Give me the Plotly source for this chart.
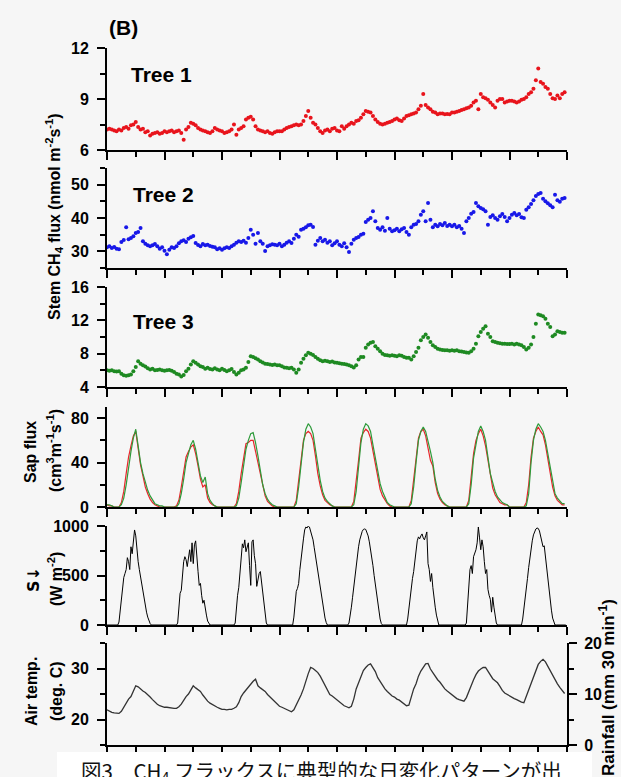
import numpy as np
import plotly.graph_objects as go

# hourly values over the 8 days shown (hour 0 = left edge of the axes)
tree1 = [
    7.2, 7.25, 7.2, 7.15, 7.1, 7.2, 7.15, 7.3, 7.35, 7.25, 7.45, 7.5, 7.65, 7.35, 7.2, 7.25, 7.05, 7.1, 6.85, 6.95, 7.0, 7.05, 6.95, 7.0,
    7.1, 7.05, 7.1, 7.15, 7.05, 7.1, 7.15, 7.0, 6.6, 7.2, 7.35, 7.6, 7.55, 7.45, 7.3, 7.2, 7.15, 7.1, 7.05, 7.0, 7.1, 7.3, 7.2, 7.15,
    7.1, 7.0, 7.05, 7.1, 7.2, 7.5, 6.9, 7.2, 7.3, 7.4, 7.8, 7.9, 7.95, 7.8, 7.4, 7.2, 7.15, 7.1, 7.05, 7.1, 7.0, 6.95, 7.05, 7.1,
    7.1, 7.1, 7.2, 7.3, 7.35, 7.4, 7.45, 7.5, 7.45, 7.5, 7.7, 8.0, 8.3, 7.9, 7.6, 7.5, 7.3, 7.1, 7.0, 7.15, 7.2, 7.1, 7.25, 7.3,
    7.15, 7.1, 7.4, 7.25, 7.4, 7.5, 7.6, 7.55, 7.7, 7.75, 7.9, 8.1, 8.3, 8.25, 8.2, 8.0, 7.8, 7.65, 7.55, 7.5, 7.55, 7.6, 7.65, 7.7,
    7.8, 7.85, 7.75, 7.7, 7.85, 8.0, 8.05, 8.1, 8.15, 8.2, 8.4, 8.6, 9.3, 8.65, 8.5, 8.4, 8.25, 8.2, 8.1, 8.15, 8.15, 8.1, 8.12, 8.1,
    8.2, 8.2, 8.25, 8.3, 8.35, 8.4, 8.45, 8.5, 8.6, 8.8, 8.9, 8.4, 9.3, 9.1, 9.05, 8.95, 8.8, 8.65, 8.5, 8.9, 9.0, 9.0, 8.8, 8.85,
    8.9, 8.9, 8.85, 8.8, 8.85, 8.95, 9.0, 9.1, 9.3, 9.4, 9.6, 10.1, 10.8, 10.0, 9.9, 9.7, 9.6, 9.3, 9.05, 9.0, 9.2, 9.05, 9.3, 9.4,
]

tree2 = [
    31.2, 31.5, 31.0, 31.3, 30.8, 30.6, 32.8, 33.4, 37.2, 33.6, 34.0, 34.5, 35.5, 35.8, 37.0, 33.0, 32.3, 31.8, 31.5, 31.8, 32.2, 31.5, 30.8, 31.2,
    30.2, 29.1, 30.5, 31.2, 31.0, 31.5, 32.4, 33.0, 33.3, 32.8, 33.8, 34.2, 34.6, 32.5, 31.9, 31.5, 32.2, 31.8, 32.0, 31.6, 31.4, 31.2, 30.6, 30.9,
    30.5, 30.9, 31.2, 31.0, 31.5, 32.0, 32.6, 33.0, 32.8, 33.2, 32.6, 34.0, 36.5, 35.0, 32.3, 35.5, 33.0, 32.3, 30.1, 31.5, 31.8, 32.1, 32.0, 31.8,
    32.3, 31.5, 32.0, 32.6, 33.0, 32.5, 33.8, 35.0, 34.4, 36.5, 36.8, 37.2, 37.8, 38.0, 37.3, 32.0, 33.2, 34.0, 33.0, 33.5, 32.6, 33.0, 31.8, 32.4,
    33.0, 32.0, 31.5, 32.4, 31.2, 29.8, 32.3, 33.5, 34.0, 34.3, 35.0, 35.3, 38.8, 39.5, 40.0, 42.0, 39.0, 37.0, 36.5, 37.2, 36.2, 40.0, 36.8, 36.0,
    36.3, 36.8, 36.0, 36.6, 37.0, 35.8, 35.0, 37.2, 38.0, 38.2, 39.0, 41.0, 42.0, 39.0, 44.5, 39.5, 37.2, 38.0, 37.5, 38.2, 37.8, 38.5, 37.6, 38.0,
    37.5, 38.0, 37.2, 37.6, 36.8, 35.5, 39.0, 40.0, 41.3, 41.8, 44.5, 43.5, 43.0, 42.6, 42.0, 38.0, 40.3, 40.8, 40.0, 39.5, 40.5, 41.2, 40.3, 39.0,
    40.0, 41.0, 41.5, 40.8, 41.2, 40.2, 40.0, 42.5, 43.2, 44.2, 45.3, 46.6, 47.2, 47.5, 45.8, 45.0, 44.4, 43.8, 43.2, 47.0, 45.3, 44.9, 45.8, 46.0,
]

tree3 = [
    6.0, 5.95, 6.0, 5.9, 5.85, 5.9, 5.6, 5.4, 5.35, 5.4, 5.5, 5.9, 6.4, 7.1, 6.8, 6.6, 6.45, 6.25, 6.1, 6.2, 6.0, 6.05, 6.1, 6.0,
    5.95, 6.0, 6.05, 5.95, 5.8, 5.6, 5.5, 5.25, 5.45, 5.9, 6.2, 6.7, 7.1, 6.9, 6.7, 6.5, 6.4, 6.2, 6.3, 6.15, 6.1, 6.25, 6.1, 6.0,
    6.2, 6.05, 5.9, 6.0, 6.15, 5.8, 5.5, 5.7, 6.0, 6.1, 6.3, 7.0, 7.7, 7.6, 7.45, 7.3, 7.1, 6.95, 6.8, 6.75, 6.7, 6.65, 6.7, 6.6,
    6.6, 6.5, 6.35, 6.3, 6.25, 6.3, 6.1, 5.7, 6.1, 6.9, 7.4, 7.8, 8.1, 8.0, 7.85, 7.6, 7.4, 7.2, 7.1, 7.15, 7.1, 7.0, 7.05, 6.95,
    6.9, 6.85, 6.8, 6.75, 6.7, 6.6, 6.5, 6.35, 6.6, 7.3, 7.6, 7.6, 8.7, 9.1, 9.3, 9.4, 8.9, 8.6, 8.3, 8.0, 7.85, 7.8, 7.75, 7.8,
    7.75, 7.7, 7.8, 7.75, 7.6, 7.5, 7.5, 7.3, 7.7, 8.2, 8.7, 9.6, 10.0, 10.3, 9.9, 9.4, 9.0, 8.8, 8.6, 8.5, 8.45, 8.4, 8.4, 8.35,
    8.4, 8.35, 8.4, 8.3, 8.25, 8.2, 8.15, 8.1, 8.3, 8.6, 9.2, 10.1, 10.6, 11.0, 11.3, 10.4, 10.0, 9.5, 9.4, 9.3, 9.25, 9.2, 9.2, 9.15,
    9.15, 9.2, 9.1, 9.2, 9.1, 9.0, 8.8, 8.5, 8.7, 9.1, 10.0, 11.6, 12.7, 12.6, 12.5, 12.2, 11.6, 11.2, 10.1, 10.3, 10.7, 10.6, 10.5, 10.5,
]

sap_red = [
    2, 1, 1, 0, 0, 0, 4, 14, 30, 45, 55, 64, 68, 52, 38, 28, 18, 12, 7, 4, 2, 1, 0, 0,
    0, 0, 0, 0, 0, 1, 6, 18, 33, 45, 50, 54, 56, 48, 37, 25, 18, 20, 8, 4, 2, 1, 0, 0,
    0, 0, 0, 0, 0, 0, 3, 14, 30, 45, 57, 58, 60, 60, 50, 39, 28, 17, 10, 5, 3, 1, 0, 0,
    0, 0, 0, 0, 0, 0, 0, 6, 24, 44, 60, 66, 68, 66, 60, 46, 30, 19, 11, 6, 4, 2, 1, 0,
    0, 0, 0, 0, 0, 0, 0, 5, 22, 42, 62, 67, 70, 68, 62, 50, 38, 26, 16, 10, 6, 3, 1, 0,
    0, 0, 0, 0, 0, 0, 0, 6, 24, 44, 62, 68, 70, 64, 52, 42, 37, 22, 12, 7, 4, 2, 1, 0,
    0, 0, 0, 0, 0, 0, 0, 6, 26, 48, 60, 66, 70, 64, 55, 42, 26, 17, 11, 7, 4, 3, 2, 2,
    0, 0, 0, 0, 0, 0, 0, 4, 20, 45, 62, 68, 72, 68, 65, 56, 44, 30, 18, 10, 6, 4, 2, 2,
]

sap_green = [
    2, 2, 1, 0, 0, 0, 2, 8, 20, 36, 50, 62, 70, 55, 40, 30, 22, 15, 10, 6, 3, 2, 1, 1,
    0, 0, 0, 0, 0, 0, 3, 12, 25, 40, 48, 56, 60, 52, 40, 28, 22, 27, 12, 6, 3, 1, 0, 0,
    0, 0, 0, 0, 0, 0, 1, 8, 22, 35, 52, 60, 66, 67, 58, 46, 32, 20, 12, 7, 4, 2, 1, 0,
    0, 0, 0, 0, 0, 0, 0, 3, 18, 38, 58, 70, 75, 72, 66, 52, 36, 24, 14, 8, 5, 3, 1, 0,
    0, 0, 0, 0, 0, 0, 0, 2, 14, 36, 58, 70, 75, 73, 68, 56, 45, 32, 21, 14, 8, 4, 2, 1,
    0, 0, 0, 0, 0, 0, 0, 3, 18, 40, 60, 68, 72, 68, 60, 50, 40, 25, 15, 9, 5, 3, 1, 0,
    0, 0, 0, 0, 0, 0, 0, 3, 20, 44, 58, 68, 73, 68, 60, 46, 30, 22, 14, 9, 6, 4, 3, 2,
    0, 0, 0, 0, 0, 0, 0, 1, 12, 40, 60, 70, 75, 72, 68, 60, 48, 34, 22, 12, 8, 5, 3, 3,
]

# half-hourly radiation
rad = [
    0, 0, 0, 0, 0, 0, 0, 0, 0, 0, 30, 150, 220, 330, 480, 520, 560, 680, 640, 560, 790, 720, 880, 960,
    900, 740, 640, 560, 480, 450, 330, 280, 180, 130, 80, 40, 15, 0, 0, 0, 0, 0, 0, 0, 0, 0, 0, 0,
    0, 0, 0, 0, 0, 0, 0, 0, 0, 0, 0, 20, 150, 320, 350, 520, 640, 690, 660, 590, 700, 760, 640, 830,
    620, 810, 850, 650, 540, 400, 420, 300, 220, 250, 160, 100, 40, 10, 0, 0, 0, 0, 0, 0, 0, 0, 0, 0,
    0, 0, 0, 0, 0, 0, 0, 0, 0, 0, 0, 20, 200, 300, 380, 520, 700, 820, 780, 860, 740, 800, 830, 600,
    400, 840, 860, 700, 620, 390, 450, 520, 540, 430, 280, 200, 100, 20, 0, 0, 0, 0, 0, 0, 0, 0, 0, 0,
    0, 0, 0, 0, 0, 0, 0, 0, 0, 0, 0, 0, 80, 230, 340, 370, 420, 560, 690, 800, 870, 960, 990, 980,
    1000, 990, 950, 900, 860, 780, 700, 620, 530, 440, 360, 280, 200, 130, 70, 25, 0, 0, 0, 0, 0, 0, 0, 0,
    0, 0, 0, 0, 0, 0, 0, 0, 0, 0, 20, 90, 180, 280, 390, 500, 600, 700, 790, 860, 910, 945, 965, 970,
    965, 940, 900, 840, 770, 690, 600, 500, 400, 300, 210, 130, 60, 15, 0, 0, 0, 0, 0, 0, 0, 0, 0, 0,
    0, 0, 0, 0, 0, 0, 0, 0, 0, 0, 0, 60, 180, 260, 380, 470, 540, 650, 760, 850, 890, 870, 900, 920,
    880, 860, 900, 940, 620, 560, 440, 520, 380, 250, 180, 100, 30, 0, 0, 0, 0, 0, 0, 0, 0, 0, 0, 0,
    0, 0, 0, 0, 0, 0, 0, 0, 0, 0, 0, 0, 20, 200, 320, 560, 600, 520, 690, 720, 760, 830, 990, 880,
    760, 860, 790, 640, 520, 560, 360, 300, 260, 130, 280, 180, 80, 20, 0, 0, 0, 0, 0, 0, 0, 0, 0, 0,
    0, 0, 0, 0, 0, 0, 0, 0, 0, 0, 0, 60, 150, 250, 360, 470, 580, 680, 770, 850, 910, 950, 970, 980,
    975, 950, 900, 850, 790, 800, 680, 580, 470, 360, 250, 150, 70, 20, 0, 0, 0, 0, 0, 0, 0, 0, 0, 0,
]

air_temp = [
    21.9, 21.6, 21.4, 21.3, 21.3, 21.2, 21.6, 22.4, 23.2, 24.0, 24.5, 25.6, 26.6, 26.4, 25.9, 25.6, 25.3, 24.9, 24.4, 23.9, 23.4, 23.0, 22.7, 22.5,
    22.4, 22.4, 22.3, 22.2, 22.2, 22.2, 22.5, 23.0, 23.8, 24.5, 25.0, 25.8, 26.6, 26.2, 25.8, 25.5, 24.8, 24.1, 23.6, 23.2, 22.9, 22.6, 22.4, 22.2,
    22.0, 22.0, 21.9, 22.0, 22.0, 22.2, 22.5, 23.3, 24.5, 25.2, 25.8, 26.2, 26.8, 27.5, 27.9, 26.6, 26.2, 25.8, 25.5, 24.9, 24.4, 23.9, 23.4, 23.0,
    22.6, 22.4, 22.2, 22.0, 21.8, 21.5, 21.9, 22.8, 23.8, 24.8, 26.0, 27.6, 29.0, 30.2, 30.0, 29.6, 29.2, 28.5, 27.6, 26.6, 25.6, 24.9, 24.6, 24.2,
    23.8, 23.4, 23.0, 22.7, 22.5, 22.3, 22.6, 24.0, 26.0, 27.2, 28.6, 29.6, 30.2, 30.7, 30.9, 30.2, 29.4, 28.2, 27.4, 26.6, 26.0, 25.5, 25.0, 24.6,
    24.4, 24.0, 23.8, 23.4, 23.0, 22.7, 22.8, 24.5, 26.0, 27.0, 28.5, 29.5, 30.3, 30.9, 31.0, 29.9, 29.2, 28.4, 27.8, 27.3, 26.6, 26.0, 25.6, 25.2,
    24.8, 24.4, 24.1, 23.9, 23.7, 23.6, 24.3, 25.6, 26.7, 27.8, 28.8, 29.5, 29.9, 30.2, 30.2, 29.5, 28.7, 28.0, 27.6, 27.2, 26.5, 25.7, 25.2, 24.9,
    24.6, 24.3, 24.1, 23.9, 23.6, 23.4, 23.3, 24.5, 26.0, 27.3, 28.2, 29.5, 30.8, 31.4, 31.8, 31.3, 30.4, 29.6, 28.6, 27.6, 27.0, 26.3, 25.6, 25.1,
]

W, H = 621, 777
FONT = "Liberation Sans, Arial, sans-serif"

def fx(px):
    return px / W

def fy(py):
    return 1 - py / H

hours = np.arange(len(tree1))
half_hours = np.arange(len(rad)) * 0.5

fig = go.Figure()

fig.add_trace(go.Scatter(x=hours, y=tree1, mode="markers", marker=dict(size=4, color="#e8141c"),
                         xaxis="x", yaxis="y"))
fig.add_trace(go.Scatter(x=hours, y=tree2, mode="markers", marker=dict(size=4, color="#1818e8"),
                         xaxis="x2", yaxis="y2"))
fig.add_trace(go.Scatter(x=hours, y=tree3, mode="markers", marker=dict(size=4, color="#1e8a22"),
                         xaxis="x3", yaxis="y3"))
fig.add_trace(go.Scatter(x=hours, y=sap_red, mode="lines", line=dict(color="#e8262b", width=1.2),
                         xaxis="x4", yaxis="y4"))
fig.add_trace(go.Scatter(x=hours, y=sap_green, mode="lines", line=dict(color="#2e9a3a", width=1.2),
                         xaxis="x4", yaxis="y4"))
fig.add_trace(go.Scatter(x=half_hours, y=rad, mode="lines", line=dict(color="black", width=1),
                         xaxis="x5", yaxis="y5"))
fig.add_trace(go.Scatter(x=hours, y=air_temp, mode="lines", line=dict(color="#333333", width=1.3),
                         xaxis="x6", yaxis="y6"))
# rainfall axis (no rain in the period)
fig.add_trace(go.Scatter(x=[], y=[], mode="lines", xaxis="x6", yaxis="y7"))

# panel extents in pixels (top, bottom)
panels = [(48, 150), (168, 268), (287, 387), (407, 507), (526, 625), (643, 745)]
y_ranges = [[6, 12], [25, 55], [4, 16], [0, 90], [0, 1000], [15, 35]]
y_dtick = [3, 10, 4, 40, 500, 10]
y_minor = [1.5, 5, 2, 20, 250, 5]

line_style = dict(showline=True, linecolor="black", linewidth=2, ticks="outside", ticklen=8,
                  tickwidth=2, tickcolor="black", showgrid=False, zeroline=False, automargin=False)
tick_font = dict(family=FONT, size=16, color="black", weight="bold")

layout = {}
for i, ((top, bot), yr, dt, mn) in enumerate(zip(panels, y_ranges, y_dtick, y_minor), start=1):
    sfx = "" if i == 1 else str(i)
    layout["xaxis" + sfx] = dict(
        line_style, domain=[fx(107), fx(567)], anchor="y" + sfx, range=[0, 192],
        tick0=0, dtick=24, showticklabels=False,
        minor=dict(ticks="outside", ticklen=5, tickwidth=1.5, tickcolor="black", dtick=12, tick0=0),
    )
    layout["yaxis" + sfx] = dict(
        line_style, domain=[fy(bot), fy(top)], anchor="x" + sfx, range=yr,
        tick0=0, dtick=dt, tickfont=tick_font, ticklabelstandoff=5,
        minor=dict(ticks="outside", ticklen=5, tickwidth=1.5, tickcolor="black", dtick=mn, tick0=0),
    )

layout["yaxis7"] = dict(
    line_style, overlaying="y6", side="right", anchor="x6", range=[0, 20],
    tick0=0, dtick=10, tickfont=tick_font, ticklabelstandoff=4,
    minor=dict(ticks="outside", ticklen=5, tickwidth=1.5, tickcolor="black", dtick=5, tick0=0),
)


def label(text, x, y, size=16, angle=0, xanchor="center", family=FONT):
    return dict(text=text, x=fx(x), y=fy(y), xref="paper", yref="paper", showarrow=False,
                textangle=angle, xanchor=xanchor, yanchor="middle",
                font=dict(family=family, size=size, color="black", weight="bold"))


annotations = [
    label("(B)", 107, 28, size=21, xanchor="left"),
    label("Tree 1", 129, 74, size=21, xanchor="left"),
    label("Tree 2", 131, 194, size=21, xanchor="left"),
    label("Tree 3", 131, 321, size=21, xanchor="left"),
    label("Stem CH<sub>4</sub> flux (nmol m<sup>-2</sup>s<sup>-1</sup>)", 54, 217, angle=-90),
    label("Sap flux", 30, 452, angle=-90),
    label("(cm<sup>3</sup>m<sup>-1</sup>s<sup>-1</sup>)", 54, 451, angle=-90),
    label("S↓", 33, 580, angle=-90, family="DejaVu Sans"),
    label("(W m<sup>-2</sup>)", 55, 579, angle=-90),
    label("Air temp.", 31, 692, angle=-90),
    label("(deg. C)", 56, 691, angle=-90),
    label("Rainfall (mm 30 min<sup>-1</sup>)", 607, 688, size=17, angle=-90),
    dict(text="図3　CH<sub>4</sub> フラックスに典型的な日変化パターンが出", x=fx(79), y=fy(771),
         xref="paper", yref="paper", showarrow=False, xanchor="left", yanchor="middle",
         font=dict(family="Noto Sans CJK JP", size=20.5, color="#111111")),
]

fig.update_layout(
    **layout,
    annotations=annotations,
    shapes=[dict(type="rect", xref="paper", yref="paper", x0=fx(57), x1=fx(592), y0=0, y1=fy(752),
                 fillcolor="white", line=dict(width=0), layer="above")],
    template="none",
    showlegend=False,
    width=W,
    height=H,
    margin=dict(l=0, r=0, t=0, b=0),
    paper_bgcolor="#f6f6f6",
    plot_bgcolor="rgba(0,0,0,0)",
)

fig.write_html(
    "out.html",
    config={"displayModeBar": False},
    post_script="document.body.style.margin='0';document.documentElement.style.overflow='hidden';",
)
